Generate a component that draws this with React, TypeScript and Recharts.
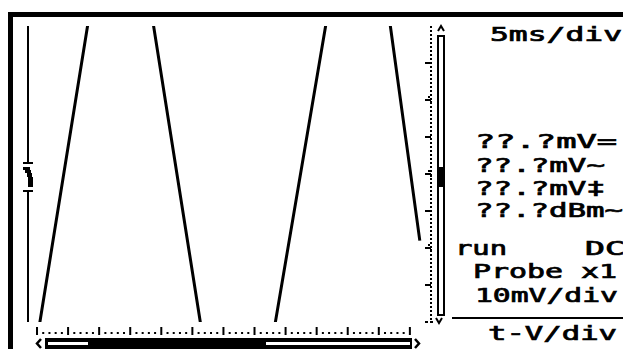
import { ComposedChart, Customized, Line, ReferenceDot, ReferenceLine, XAxis, YAxis } from 'recharts';

// CH1 trace vertices (time in ms, level in mV)
const timeMs = [-1.45, 13.5, 32.1, 52.2, 61.6];
const ch1mV = [-60, 96, -102, 97, -18];

// 5 ms/div, one dot per ms on the bottom scale
const timeTicks = [
  0, 1, 2, 3, 4, 5, 6, 7, 8, 9, 10, 11, 12, 13, 14, 15, 16, 17, 18, 19, 20,
  21, 22, 23, 24, 25, 26, 27, 28, 29, 30, 31, 32, 33, 34, 35, 36, 37, 38, 39, 40,
  41, 42, 43, 44, 45, 46, 47, 48, 49, 50, 51, 52, 53, 54, 55, 56, 57, 58, 59, 60,
];
// 10 mV/div on the right scale
const voltTicks = [-30, -20, -10, 0, 10, 20, 30];

const readoutText = [
  '5ms/div',
  '??.?mV=',
  '??.?mV~',
  '??.?mV‡',
  '??.?dBm~',
  'run',
  'DC',
  'Probe x1',
  '10mV/div',
  't-V/div',
];

const readoutLayout = [
  { x: 490, y: 41, w: 132 },
  { x: 475, y: 148, w: 142 },
  { x: 475, y: 172, w: 130 },
  { x: 475, y: 195, w: 130 },
  { x: 475, y: 217, w: 148 },
  { x: 455, y: 255, w: 52 },
  { x: 585, y: 255, w: 40 },
  { x: 473, y: 278, w: 144 },
  { x: 475, y: 302, w: 143 },
  { x: 488, y: 340, w: 129 },
];

const chartData = timeMs.map((t, i) => ({ t, v: ch1mV[i] }));

const INK = '#000';
const FONT = '"DejaVu Sans Mono", monospace';

const TimeTick = (props: any) => {
  const { x, payload } = props;
  if (payload.value % 5 === 0) return <rect x={x - 1} y={327} width={2} height={8} fill={INK} />;
  return <rect x={x - 1} y={332} width={2} height={2} fill={INK} />;
};

const VoltTick = (props: any) => {
  const { y, payload } = props;
  const notch = payload.value % 20 === 0;
  return (
    <g>
      <rect x={425} y={y - 1} width={6} height={2} fill={INK} />
      {notch && <rect x={428} y={y - 4} width={2} height={2} fill={INK} />}
      {notch && <rect x={430} y={y + 1} width={2} height={2} fill={INK} />}
    </g>
  );
};

const Ch1Marker = (props: any) => {
  const { cx, cy } = props;
  return (
    <g fill={INK}>
      <rect x={cx - 6} y={cy - 10} width={12} height={26} fill="#fff" />
      <rect x={cx - 5} y={cy - 12} width={10} height={2} />
      <rect x={cx - 5} y={cy - 7} width={7} height={3} />
      <rect x={cx - 3} y={cy - 4} width={6} height={3} />
      <rect x={cx - 1} y={cy - 1} width={5} height={4} />
      <rect x={cx} y={cy + 3} width={5} height={10} />
      <rect x={cx - 5} y={cy + 16} width={10} height={2} />
    </g>
  );
};

const Decor = () => (
  <g>
    {/* bezel */}
    <rect x={8} y={12} width={615} height={5} fill={INK} />
    <rect x={8} y={12} width={5} height={337} fill={INK} />

    {/* vertical position bar */}
    <polyline points="438,31 441,26 444,31" fill="none" stroke={INK} strokeWidth={2} />
    <rect x={438} y={36} width={6} height={279} fill="none" stroke={INK} strokeWidth={2} />
    <rect x={437} y={167} width={8} height={20} fill={INK} />
    <polyline points="436,318 439,323 442,318" fill="none" stroke={INK} strokeWidth={2} />
    <rect x={425} y={321} width={3} height={2} fill={INK} />
    <rect x={430} y={321} width={3} height={2} fill={INK} />

    {/* horizontal scroll bar */}
    <polyline points="41,339 37,343.5 41,348" fill="none" stroke={INK} strokeWidth={2.5} />
    <rect x={45} y={338} width={367} height={11} fill={INK} />
    <rect x={48} y={342} width={40} height={3} fill="#fff" />
    <rect x={266} y={342} width={144} height={3} fill="#fff" />
    <polyline points="415,339 419,343.5 415,348" fill="none" stroke={INK} strokeWidth={2.5} />

    {/* readouts */}
    <rect x={452} y={317} width={171} height={2} fill={INK} />
    {readoutText.map((s, i) => (
      <text
        key={i}
        x={readoutLayout[i].x}
        y={readoutLayout[i].y}
        textLength={readoutLayout[i].w}
        lengthAdjust="spacingAndGlyphs"
        fontFamily={FONT}
        fontSize={19}
        fill={INK}
        stroke={INK}
        strokeWidth={0.7}
      >
        {s}
      </text>
    ))}
  </g>
);

export default function App() {
  return (
    <div style={{ position: 'fixed', left: 0, top: 0, width: 623, height: 349, background: '#fff' }}>
      <ComposedChart width={623} height={349} data={chartData} margin={{ top: 26, right: 0, bottom: 0, left: 28 }}>
        <XAxis
          dataKey="t"
          type="number"
          domain={[-1.45, 63.4]}
          allowDataOverflow
          ticks={timeTicks}
          interval={0}
          tickLine={false}
          axisLine={false}
          height={27}
          tick={<TimeTick />}
        />
        <YAxis yAxisId="l" type="number" domain={[-40, 40]} allowDataOverflow hide />
        <YAxis
          yAxisId="r"
          orientation="right"
          type="number"
          domain={[-40, 40]}
          allowDataOverflow
          width={192}
          ticks={voltTicks}
          interval={0}
          tickLine={false}
          tick={<VoltTick />}
          axisLine={{ stroke: INK, strokeWidth: 2, strokeDasharray: '2 2' }}
        />
        <ReferenceLine yAxisId="l" x={-1.45} stroke={INK} strokeWidth={2} />
        <Line
          yAxisId="l"
          dataKey="v"
          type="linear"
          stroke={INK}
          strokeWidth={3}
          dot={false}
          isAnimationActive={false}
        />
        <ReferenceDot yAxisId="l" x={-1.45} y={0} r={0} ifOverflow="visible" shape={<Ch1Marker />} />
        <Customized component={Decor} />
      </ComposedChart>
    </div>
  );
}
